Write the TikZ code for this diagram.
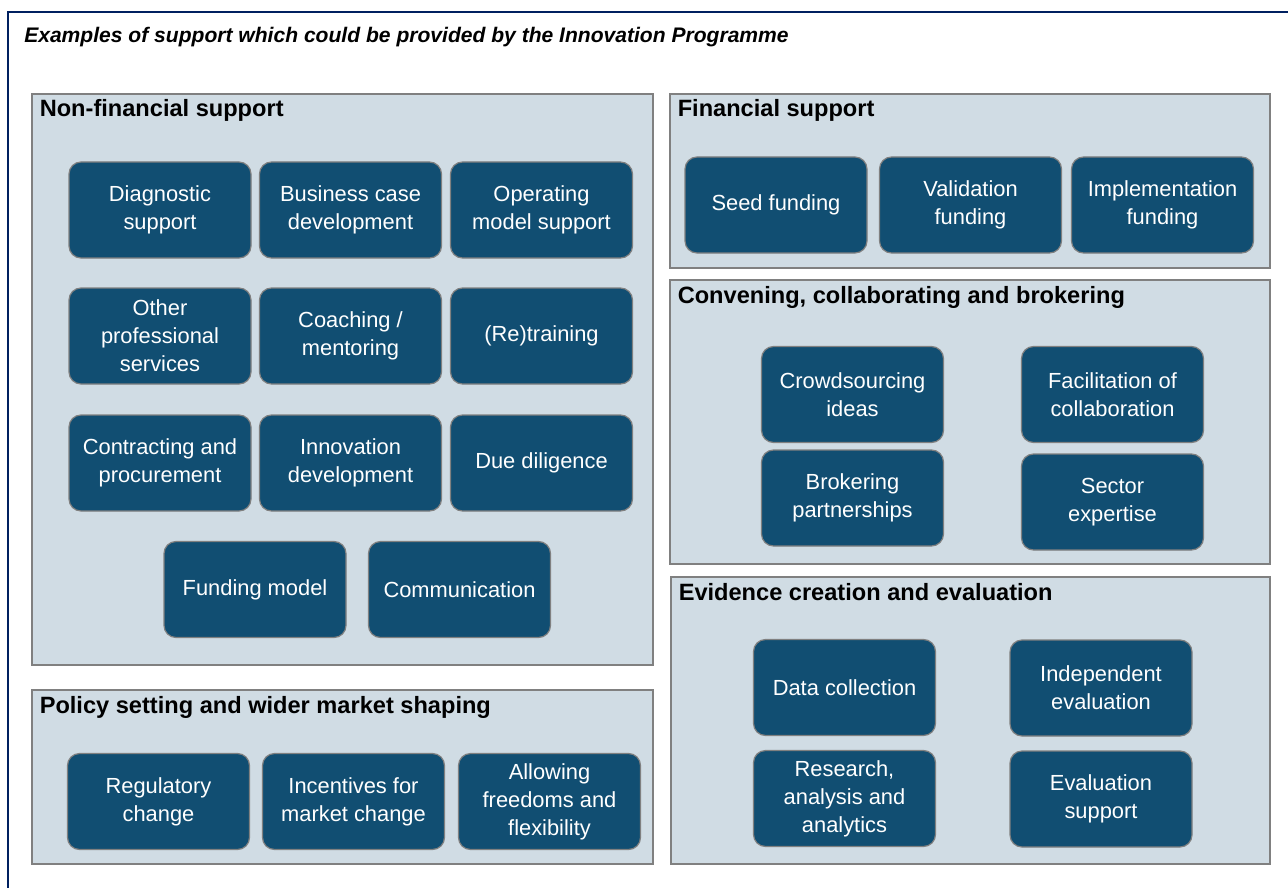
\documentclass[tikz,border=0pt]{standalone}
\usepackage{fontspec}
\setmainfont{Liberation Sans}
\usepackage{tikz}
\definecolor{frameNavy}{RGB}{0,32,96}
\definecolor{panelFill}{RGB}{208,220,228}
\definecolor{panelLine}{RGB}{128,128,128}
\definecolor{boxFill}{RGB}{17,78,114}
\newcommand{\drawPanel}[6]{%
  \draw[panelStyle] (#2,#3) rectangle (#4,#5);
  \node[panelTitle] (#1) at (#2+7.5,#3+23) {#6};
}

\begin{document}
\begin{tikzpicture}[%
  x=0.75pt,y=-0.75pt,%
  frameStyle/.style={draw=frameNavy,line width=1.6pt},%
  panelStyle/.style={fill=panelFill,draw=panelLine,line width=1.5pt},%
  panelTitle/.style={anchor=base west,inner sep=0pt,font=\fontsize{17.7}{21}\selectfont\bfseries},%
  boxStyle/.style={fill=boxFill,draw=panelLine,line width=0.9pt,rounded corners=9pt,%
    minimum width=\boxWidth pt,minimum height=\boxHeight pt,inner sep=2pt,%
    align=center,text=white,font=\fontsize{16.4}{21}\selectfont}%
]
%
%
\pgfmathsetmacro{\boxWidth}{182*0.75}  % Width of each support box.
\pgfmathsetmacro{\boxHeight}{96*0.75}  % Height of each support box.
\clip (0,0) rectangle (1288,888);
\fill[white] (0,0) rectangle (1288,888);
\draw[frameStyle] (8,12) rectangle (1320,920);
\node[anchor=base west,inner sep=0pt,font=\fontsize{15.8}{19}\selectfont\bfseries\itshape]
  (title) at (24,43) {Examples of support which could be provided by the Innovation Programme};
%
%
% The panels.
\drawPanel{nonFinancial}{32}{94}{653}{665}{Non-financial support}
\drawPanel{policy}{32}{690}{653}{864}{Policy setting and wider market shaping}
\drawPanel{financial}{670}{94}{1270}{268}{Financial support}
\drawPanel{convening}{670}{280}{1270}{564}{Convening, collaborating and brokering}
\drawPanel{evidence}{671}{577}{1270}{864}{Evidence creation and evaluation}
%
%
% Non-financial support.
\node[boxStyle] (diagnostic) at (160,210) {Diagnostic\\support};
\node[boxStyle] (businessCase) at (350.5,210) {Business case\\development};
\node[boxStyle] (operatingModel) at (541.5,210) {Operating\\model support};
\node[boxStyle] (otherServices) at (160,336) {Other\\professional\\services};
\node[boxStyle] (coaching) at (350.5,336) {Coaching /\\mentoring};
\node[boxStyle] (retraining) at (541.5,336) {(Re)training};
\node[boxStyle] (contracting) at (160,463) {Contracting and\\procurement};
\node[boxStyle] (innovation) at (350.5,463) {Innovation\\development};
\node[boxStyle] (dueDiligence) at (541.5,463) {Due diligence};
\node[boxStyle] (fundingModel) at (255,589.5) {Funding model};
\node[boxStyle] (communication) at (459.5,589.5) {Communication};
%
% Policy setting and wider market shaping.
\node[boxStyle] (regulatory) at (158.5,801.5) {Regulatory\\change};
\node[boxStyle] (incentives) at (353.5,801.5) {Incentives for\\market change};
\node[boxStyle] (freedoms) at (549.5,801.5) {Allowing\\freedoms and\\flexibility};
%
% Financial support.
\node[boxStyle] (seed) at (776,205) {Seed funding};
\node[boxStyle] (validation) at (970.5,205) {Validation\\funding};
\node[boxStyle] (implementation) at (1162.5,205) {Implementation\\funding};
%
% Convening, collaborating and brokering.
\node[boxStyle] (crowdsourcing) at (852.5,394.5) {Crowdsourcing\\ideas};
\node[boxStyle] (facilitation) at (1112.5,394.5) {Facilitation of\\collaboration};
\node[boxStyle] (brokering) at (852.5,498) {Brokering\\partnerships};
\node[boxStyle] (sector) at (1112.5,502) {Sector\\expertise};
%
% Evidence creation and evaluation.
\node[boxStyle] (dataCollection) at (844.5,687.5) {Data collection};
\node[boxStyle] (independent) at (1101,688) {Independent\\evaluation};
\node[boxStyle] (research) at (844.5,798.5) {Research,\\analysis and\\analytics};
\node[boxStyle] (evalSupport) at (1101,799) {Evaluation\\support};
\end{tikzpicture}
\end{document}
